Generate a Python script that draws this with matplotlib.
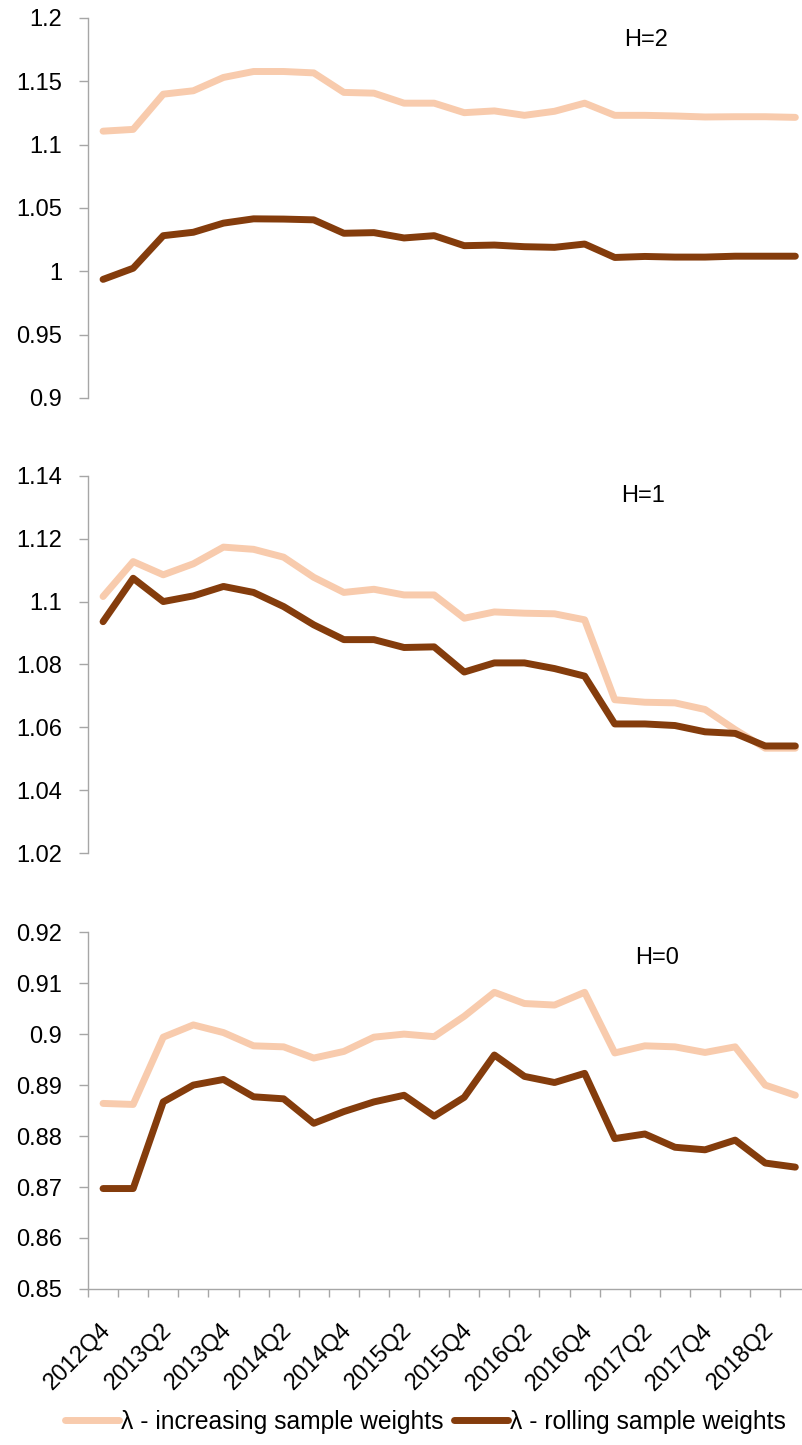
import matplotlib
matplotlib.use("Agg")
import matplotlib.pyplot as plt
import matplotlib.transforms as mtransforms
import numpy as np

plt.rcParams['font.family'] = ['Liberation Sans', 'DejaVu Sans']

quarters = ['2012Q4', '2013Q1', '2013Q2', '2013Q3', '2013Q4', '2014Q1', '2014Q2', '2014Q3',
            '2014Q4', '2015Q1', '2015Q2', '2015Q3', '2015Q4', '2016Q1', '2016Q2', '2016Q3',
            '2016Q4', '2017Q1', '2017Q2', '2017Q3', '2017Q4', '2018Q1', '2018Q2', '2018Q3']

# H=2
h2_incr = [1.1106, 1.1120, 1.1398, 1.1425, 1.1530, 1.1577, 1.1577, 1.1566,
           1.1412, 1.1406, 1.1327, 1.1327, 1.1252, 1.1266, 1.1231, 1.1263,
           1.1327, 1.1231, 1.1231, 1.1226, 1.1218, 1.1220, 1.1220, 1.1215]
h2_roll = [0.9936, 1.0024, 1.0281, 1.0308, 1.0380, 1.0414, 1.0412, 1.0406,
           1.0300, 1.0305, 1.0263, 1.0281, 1.0202, 1.0207, 1.0194, 1.0189,
           1.0215, 1.0109, 1.0117, 1.0112, 1.0112, 1.0119, 1.0119, 1.0119]
# H=1
h1_incr = [1.1016, 1.1127, 1.1085, 1.1120, 1.1173, 1.1166, 1.1141, 1.1077,
           1.1029, 1.1039, 1.1021, 1.1021, 1.0947, 1.0967, 1.0963, 1.0961,
           1.0942, 1.0688, 1.0680, 1.0678, 1.0657, 1.0593, 1.0534, 1.0534]
h1_roll = [1.0936, 1.1074, 1.1000, 1.1018, 1.1048, 1.1029, 1.0984, 1.0926,
           1.0879, 1.0879, 1.0854, 1.0856, 1.0776, 1.0805, 1.0805, 1.0787,
           1.0763, 1.0611, 1.0611, 1.0606, 1.0586, 1.0581, 1.0541, 1.0541]
# H=0
h0_incr = [0.8864, 0.8862, 0.8994, 0.9018, 0.9003, 0.8977, 0.8975, 0.8953,
           0.8966, 0.8994, 0.9000, 0.8995, 0.9035, 0.9082, 0.9060, 0.9057,
           0.9082, 0.8963, 0.8977, 0.8975, 0.8964, 0.8975, 0.8900, 0.8880]
h0_roll = [0.8697, 0.8697, 0.8867, 0.8900, 0.8911, 0.8877, 0.8873, 0.8825,
           0.8848, 0.8867, 0.8880, 0.8839, 0.8876, 0.8959, 0.8917, 0.8905,
           0.8923, 0.8795, 0.8804, 0.8778, 0.8773, 0.8792, 0.8747, 0.8739]

labels = ['λ - increasing sample weights', 'λ - rolling sample weights']
c_incr = '#F8CBAD'
c_roll = '#843C0C'
grey = '#A6A6A6'
fs = 17

fig = plt.figure(figsize=(8.03, 14.45), dpi=100)
left, width = 0.1096, 0.8996
panels = [
    ([left, 0.7246, width, 0.2630], h2_incr, h2_roll, (0.9, 1.2), 0.05, 'H=2', (0.773, 0.942)),
    ([left, 0.4095, width, 0.2613], h1_incr, h1_roll, (1.02, 1.14), 0.02, 'H=1', (0.768, 0.947)),
    ([left, 0.1080, width, 0.2469], h0_incr, h0_roll, (0.85, 0.92), 0.01, 'H=0', (0.788, 0.928)),
]

x = np.arange(len(quarters))
for i, (pos, inc, rol, ylim, step, title, tpos) in enumerate(panels):
    ax = fig.add_axes(pos)
    l1, = ax.plot(x, inc, color=c_incr, lw=5, solid_capstyle='round', solid_joinstyle='round')
    l2, = ax.plot(x, rol, color=c_roll, lw=5, solid_capstyle='round', solid_joinstyle='round')
    ax.set_xlim(-0.5, len(quarters) - 0.5)
    ax.set_ylim(*ylim)
    yt = np.arange(ylim[0], ylim[1] + step / 2, step)
    ax.set_yticks(yt)
    ax.set_yticklabels([('%g' % round(v, 2)) for v in yt], fontsize=fs)
    for s in ['top', 'right']:
        ax.spines[s].set_visible(False)
    ax.spines['left'].set_color(grey)
    ax.spines['left'].set_linewidth(1)
    ax.tick_params(axis='y', direction='out', length=6.5, width=1, color=grey, pad=12)
    ax.text(tpos[0], tpos[1], title, transform=ax.transAxes, ha='center', va='center', fontsize=fs)
    if i < 2:
        ax.spines['bottom'].set_visible(False)
        ax.set_xticks([])
    else:
        ax.spines['bottom'].set_color(grey)
        ax.spines['bottom'].set_linewidth(1)
        ax.set_xticks(x[::2])
        ax.set_xticklabels(quarters[::2], rotation=45, ha='right', va='top',
                           rotation_mode='anchor', fontsize=fs)
        ax.set_xticks(np.arange(-0.5, len(quarters), 1), minor=True)
        ax.tick_params(axis='x', which='major', length=0, pad=22)
        ax.tick_params(axis='x', which='minor', direction='out', length=6, width=1, color=grey)
        off = mtransforms.ScaledTranslation(-3 / 100, 0, fig.dpi_scale_trans)
        for lab in ax.get_xticklabels():
            lab.set_transform(lab.get_transform() + off)

fig.legend([l1, l2], labels, loc='center', bbox_to_anchor=(0.53, 0.016), ncol=2,
           frameon=False, fontsize=17.7, handlelength=2.2, handletextpad=0.1,
           columnspacing=0.4, borderaxespad=0)

fig.savefig('out.png', dpi=100)
